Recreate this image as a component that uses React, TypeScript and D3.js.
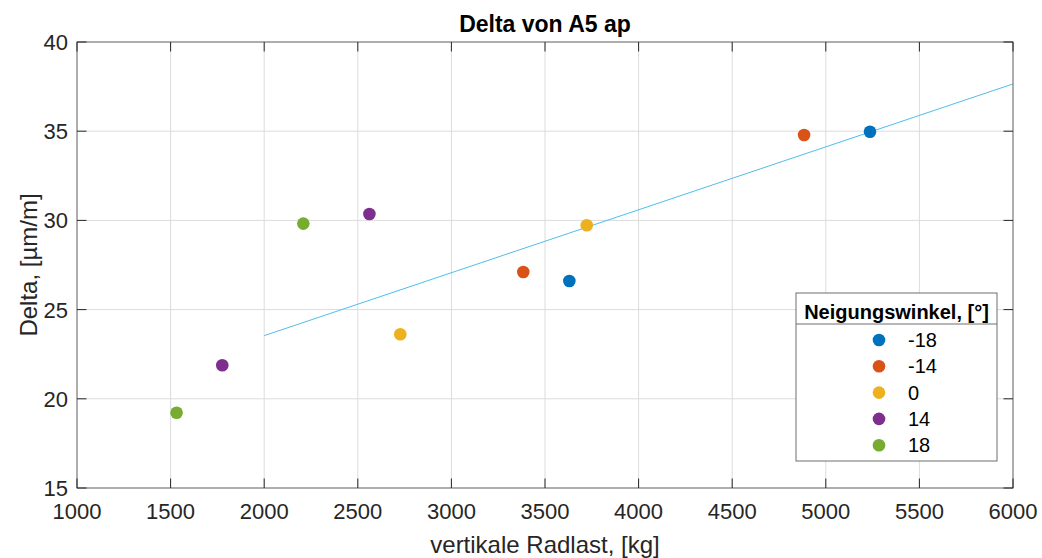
import React from "react";
import * as d3 from "d3";

const title = "Delta von A5 ap";
const xLabel = "vertikale Radlast, [kg]";
const yLabel = "Delta, [µm/m]";
const legendTitle = "Neigungswinkel, [°]";

const angles = ["-18", "-14", "0", "14", "18"];
const colors = ["#0072BD", "#D95319", "#EDB120", "#7E2F8E", "#77AC30"];

const radlastM18 = [3630, 5236];
const deltaM18 = [26.6, 34.97];
const radlastM14 = [3384, 4884];
const deltaM14 = [27.11, 34.79];
const radlast0 = [2727, 3723];
const delta0 = [23.62, 29.73];
const radlast14 = [1776, 2562];
const delta14 = [21.88, 30.36];
const radlast18 = [1532, 2209];
const delta18 = [19.22, 29.82];

const fitX = [2000, 6000];
const fitY = [23.54, 37.65];

const xTicks = [1000, 1500, 2000, 2500, 3000, 3500, 4000, 4500, 5000, 5500, 6000];
const yTicks = [15, 20, 25, 30, 35, 40];

const seriesX = [radlastM18, radlastM14, radlast0, radlast14, radlast18];
const seriesY = [deltaM18, deltaM14, delta0, delta14, delta18];

export default function App() {
  const W = 1042, H = 558;
  const L = 77, R = 1013, T = 42, B = 488;
  const x = d3.scaleLinear().domain([1000, 6000]).range([L, R]);
  const y = d3.scaleLinear().domain([15, 40]).range([B, T]);
  const tickLen = 9.5;
  const axisCol = "#262626";
  const gridCol = "#dcdcdc";
  const font = "'Liberation Sans', Arial, Helvetica, sans-serif";
  const line = d3.line<number>().x((d, i) => x(fitX[i])).y((d, i) => y(fitY[i]));

  const lg = { x0: 796, x1: 997, y0: 293, y1: 461, sep: 324, rowY0: 340, rowStep: 26.3, mx: 879, tx: 908 };

  return (
    <svg width={W} height={H} style={{ position: "absolute", left: 0, top: 0, background: "#fff" }} fontFamily={font}>
      <rect x={0} y={0} width={W} height={H} fill="#fff" />
      {/* grid */}
      {xTicks.map((t) => (
        <line key={"gx" + t} x1={x(t)} x2={x(t)} y1={T} y2={B} stroke={gridCol} strokeWidth={1} />
      ))}
      {yTicks.map((t) => (
        <line key={"gy" + t} x1={L} x2={R} y1={y(t)} y2={y(t)} stroke={gridCol} strokeWidth={1} />
      ))}
      {/* fit line */}
      <path d={line(fitX) || ""} fill="none" stroke="#4DBEEE" strokeWidth={1} />
      {/* points */}
      {seriesX.map((xs, si) =>
        xs.map((v, i) => (
          <circle key={"p" + si + "-" + i} cx={x(v)} cy={y(seriesY[si][i])} r={6.3} fill={colors[si]} />
        ))
      )}
      {/* box */}
      <rect x={L} y={T} width={R - L} height={B - T} fill="none" stroke="#6e6e6e" strokeWidth={1} />
      {/* ticks */}
      {xTicks.map((t) => (
        <g key={"tx" + t}>
          <line x1={x(t)} x2={x(t)} y1={B} y2={B - tickLen} stroke={axisCol} strokeWidth={1} />
          <line x1={x(t)} x2={x(t)} y1={T} y2={T + tickLen} stroke={axisCol} strokeWidth={1} />
          <text x={x(t)} y={519} textAnchor="middle" fontSize={22} fill={axisCol}>{t}</text>
        </g>
      ))}
      {yTicks.map((t) => (
        <g key={"ty" + t}>
          <line x1={L} x2={L + tickLen} y1={y(t)} y2={y(t)} stroke={axisCol} strokeWidth={1} />
          <line x1={R} x2={R - tickLen} y1={y(t)} y2={y(t)} stroke={axisCol} strokeWidth={1} />
          <text x={68} y={y(t) + 8} textAnchor="end" fontSize={22} fill={axisCol}>{t}</text>
        </g>
      ))}
      {/* labels */}
      <text x={(L + R) / 2} y={32} textAnchor="middle" fontSize={23} fontWeight="bold" fill="#000">{title}</text>
      <text x={(L + R) / 2} y={553} textAnchor="middle" fontSize={24} fill={axisCol}>{xLabel}</text>
      <text transform={`translate(37,${(T + B) / 2}) rotate(-90)`} textAnchor="middle" fontSize={24} fill={axisCol}>{yLabel}</text>
      {/* legend */}
      <rect x={lg.x0} y={lg.y0} width={lg.x1 - lg.x0} height={lg.y1 - lg.y0} fill="#fff" stroke="#6e6e6e" strokeWidth={1} />
      <line x1={lg.x0} x2={lg.x1} y1={lg.sep} y2={lg.sep} stroke="#6e6e6e" strokeWidth={1} />
      <text x={(lg.x0 + lg.x1) / 2} y={319} textAnchor="middle" fontSize={20} fontWeight="bold" fill="#000">{legendTitle}</text>
      {angles.map((a, i) => (
        <g key={"lg" + a}>
          <circle cx={lg.mx} cy={lg.rowY0 + i * lg.rowStep} r={6.3} fill={colors[i]} />
          <text x={lg.tx} y={lg.rowY0 + i * lg.rowStep + 7} fontSize={20} fill="#000">{a}</text>
        </g>
      ))}
    </svg>
  );
}
